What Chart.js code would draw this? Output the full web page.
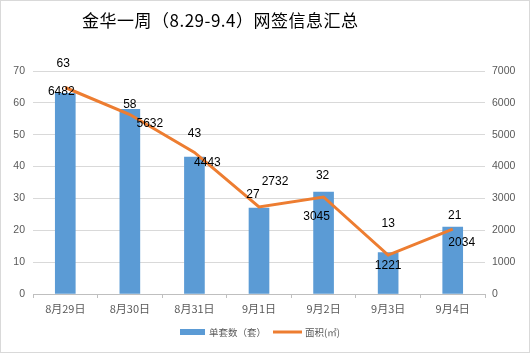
<!DOCTYPE html>
<html>
<head>
<meta charset="utf-8">
<script src="https://cdn.jsdelivr.net/npm/chart.js@4/dist/chart.umd.min.js"></script>
<style>
html,body{margin:0;padding:0;background:#fff;}
#wrap{position:relative;width:530px;height:353px;}
canvas{display:block;}
</style>
</head>
<body>
<div id="wrap"><canvas id="c" width="530" height="353"></canvas></div>
<script>
const titleText = '金华一周（8.29-9.4）网签信息汇总';
const categories = ['8月29日','8月30日','8月31日','9月1日','9月2日','9月3日','9月4日'];
const unitCounts = [63, 58, 43, 27, 32, 13, 21];
const areas = [6482, 5632, 4443, 2732, 3045, 1221, 2034];
const countLabel = '单套数（套）';
const areaLabel = '面积(㎡)';
const leftTicks = [0,10,20,30,40,50,60,70];
const rightTicks = [0,1000,2000,3000,4000,5000,6000,7000];

const BLUE = '#5B9BD5', ORANGE = '#ED7D31', GRID = '#d9d9d9', TICK = '#595959';

// label placement offsets (px) relative to the element anchor
const barLabelOffsets = [[-2,-30],[0,-5],[0,-23],[-6,-13],[-1,-16],[0,-29],[2,-11]];
const lineLabelOffsets = [[-4,4],[20,9],[13,10],[16,-25],[-7,20],[0,11],[9,13]];

const decor = {
  id: 'decor',
  beforeDraw(chart) {
    const ctx = chart.ctx;
    ctx.save();
    ctx.fillStyle = '#fff';
    ctx.fillRect(0, 0, chart.width, chart.height);
    ctx.restore();
  },
  afterDatasetsDraw(chart) {
    const ctx = chart.ctx;
    ctx.save();
    ctx.font = '12px "Liberation Sans", Arial, sans-serif';
    ctx.fillStyle = '#000';
    ctx.textAlign = 'center';
    ctx.textBaseline = 'middle';
    const barMeta = chart.getDatasetMeta(0);
    barMeta.data.forEach((el, i) => {
      const o = barLabelOffsets[i];
      ctx.fillText(String(unitCounts[i]), el.x + o[0], el.y + o[1]);
    });
    const lineMeta = chart.getDatasetMeta(1);
    lineMeta.data.forEach((el, i) => {
      const o = lineLabelOffsets[i];
      ctx.fillText(String(areas[i]), el.x + o[0], el.y + o[1]);
    });
    ctx.restore();
  },
  afterDraw(chart) {
    const ctx = chart.ctx;
    ctx.save();
    // title
    ctx.font = '17px "Noto Sans CJK SC", sans-serif';
    ctx.fillStyle = '#000';
    ctx.textAlign = 'left';
    ctx.textBaseline = 'middle';
    if ('letterSpacing' in ctx) ctx.letterSpacing = '0.5px';
    ctx.fillText(titleText, 82, 21);
    if ('letterSpacing' in ctx) ctx.letterSpacing = '0px';
    // legend
    const ly = 332;
    ctx.font = '9.5px "Noto Sans CJK SC", sans-serif';
    ctx.fillStyle = BLUE;
    ctx.fillRect(180, ly - 3, 25, 6);
    ctx.fillStyle = TICK;
    ctx.fillText(countLabel, 209, ly);
    ctx.strokeStyle = ORANGE;
    ctx.lineWidth = 3;
    ctx.beginPath();
    ctx.moveTo(273, ly);
    ctx.lineTo(302, ly);
    ctx.stroke();
    ctx.fillText(areaLabel, 305, ly);
    // border
    ctx.strokeStyle = '#d9d9d9';
    ctx.lineWidth = 2;
    ctx.strokeRect(0, 0, chart.width, chart.height);
    ctx.restore();
  }
};

new Chart(document.getElementById('c'), {
  data: {
    labels: categories,
    datasets: [
      {
        type: 'bar',
        label: countLabel,
        data: unitCounts,
        backgroundColor: BLUE,
        borderWidth: 0,
        barThickness: 20,
        yAxisID: 'y',
        order: 2
      },
      {
        type: 'line',
        label: areaLabel,
        data: areas,
        borderColor: ORANGE,
        backgroundColor: ORANGE,
        borderWidth: 3,
        pointRadius: 0,
        tension: 0,
        yAxisID: 'y1',
        order: 1
      }
    ]
  },
  options: {
    responsive: false,
    animation: false,
    devicePixelRatio: 1,
    layout: { padding: { top: 71, bottom: 34, left: 0, right: 0 } },
    plugins: {
      legend: { display: false },
      title: { display: false },
      tooltip: { enabled: false }
    },
    scales: {
      x: {
        grid: {
          offset: true,
          drawOnChartArea: false,
          drawTicks: true,
          tickLength: 4,
          color: '#bfbfbf'
        },
        border: { color: '#bfbfbf', width: 1 },
        ticks: {
          color: TICK,
          font: { family: '"Noto Sans CJK SC", sans-serif', size: 11 },
          padding: 4,
          maxRotation: 0
        },
        afterFit(s) { s.height = 25; }
      },
      y: {
        position: 'left',
        min: 0, max: 70,
        afterBuildTicks(s) { s.ticks = leftTicks.map(v => ({ value: v })); },
        grid: { color: GRID, drawTicks: false },
        border: { display: false },
        ticks: {
          color: TICK,
          font: { family: '"Liberation Sans", Arial, sans-serif', size: 10.5 },
          padding: 8,
          callback: v => String(v)
        },
        afterFit(s) { s.width = 33; }
      },
      y1: {
        position: 'right',
        min: 0, max: 7000,
        afterBuildTicks(s) { s.ticks = rightTicks.map(v => ({ value: v })); },
        grid: { drawOnChartArea: false, drawTicks: false },
        border: { display: false },
        ticks: {
          color: TICK,
          font: { family: '"Liberation Sans", Arial, sans-serif', size: 10.5 },
          padding: 7,
          callback: v => String(v)
        },
        afterFit(s) { s.width = 45; }
      }
    }
  },
  plugins: [decor]
});
</script>
</body>
</html>
